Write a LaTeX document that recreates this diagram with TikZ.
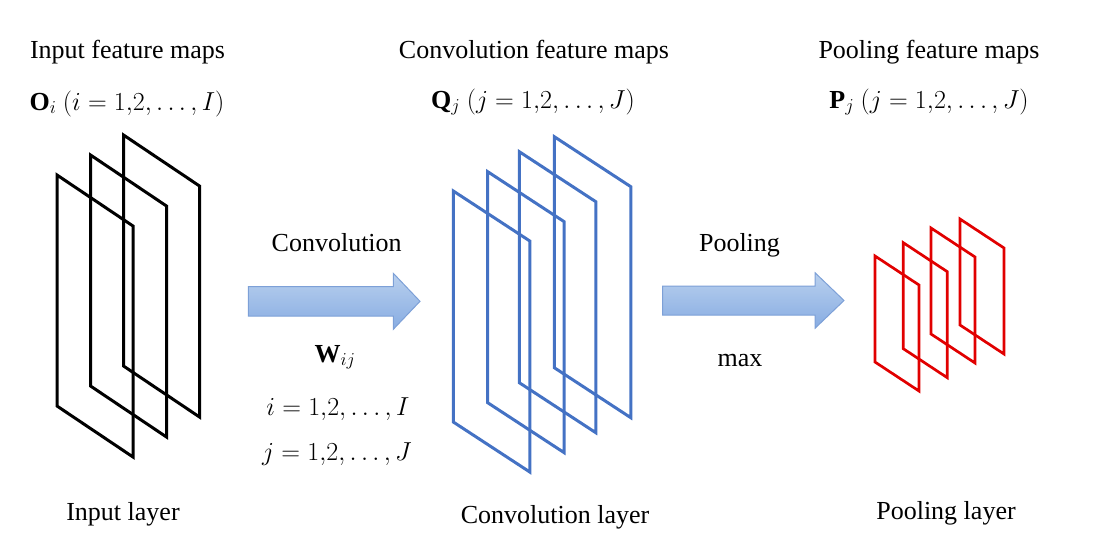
\documentclass[tikz,border=0pt]{standalone}
\usepackage{fix-cm}
\usepackage{fontspec}
\setmainfont{Liberation Serif}
\definecolor{mapblue}{RGB}{68,114,196}
\definecolor{mapred}{RGB}{225,0,0}
\definecolor{arrtop}{RGB}{185,208,238}
\definecolor{arrbot}{RGB}{135,172,226}
\definecolor{arredge}{RGB}{125,160,215}
\tikzset{
  lbl/.style={anchor=base, inner sep=0pt, font=\fontsize{26}{30}\selectfont},
  fmap/.style={line width=3pt, line join=miter},
  blockarrow/.style={draw=arredge, line width=1pt, top color=arrtop, bottom color=arrbot}
}
\begin{document}
\begin{tikzpicture}[x=1pt,y=-1pt]
\useasboundingbox (0,0) rectangle (1104,560);
% input feature maps (black)
\foreach \x/\y in {123.5/135, 90.5/155, 57/175}{
  \draw[fmap,black] (\x,\y) -- ++(76,51) -- ++(0,231) -- ++(-76,-51) -- cycle;
}
% convolution feature maps (blue)
\foreach \x/\y in {554.3/136.7, 519.3/151.7, 487.7/171.7, 453.3/191}{
  \draw[fmap,mapblue] (\x,\y) -- ++(76.5,50) -- ++(0,231) -- ++(-76.5,-50) -- cycle;
}
% pooling feature maps (red)
\foreach \x/\y in {960/219, 931/228, 903.3/242.7, 875/256}{
  \draw[fmap,mapred,line width=2.7pt] (\x,\y) -- ++(44,29) -- ++(0,106) -- ++(-44,-29) -- cycle;
}
% block arrows
\path[blockarrow] (248.3,286.7) -- (393.3,286.7) -- (393.3,273.3) -- (420,301.3)
   -- (393.3,329.3) -- (393.3,316) -- (248.3,316) -- cycle;
\path[blockarrow] (662.7,286) -- (815,286) -- (815,272.7) -- (844,300.5)
   -- (815,328.3) -- (815,315) -- (662.7,315) -- cycle;
% labels
\node[lbl] (tIn) at (127.5,58) {Input feature maps};
\node[lbl] (mIn) at (127,110) {$\mathbf{O}_i\ (i=1{,}2,\ldots,I)$};
\node[lbl] (tConv) at (534,58) {Convolution feature maps};
\node[lbl] (mConv) at (533,108) {$\mathbf{Q}_j\ (j=1{,}2,\ldots,J)$};
\node[lbl] (tPool) at (929,58) {Pooling feature maps};
\node[lbl] (mPool) at (929,108) {$\mathbf{P}_j\ (j=1{,}2,\ldots,J)$};
\node[lbl] (aConv) at (336.7,251.5) {Convolution};
\node[lbl] (wij) at (335,362) {$\mathbf{W}_{ij}$};
\node[lbl] (iRange) at (338,415) {$i=1{,}2,\ldots,I$};
\node[lbl] (jRange) at (337,460) {$j=1{,}2,\ldots,J$};
\node[lbl] (aPool) at (739.5,251.5) {Pooling};
\node[lbl] (aMax) at (740,366.5) {max};
\node[lbl] (bIn) at (123,520) {Input layer};
\node[lbl] (bConv) at (555,523) {Convolution layer};
\node[lbl] (bPool) at (946,519) {Pooling layer};
\end{tikzpicture}
\end{document}
